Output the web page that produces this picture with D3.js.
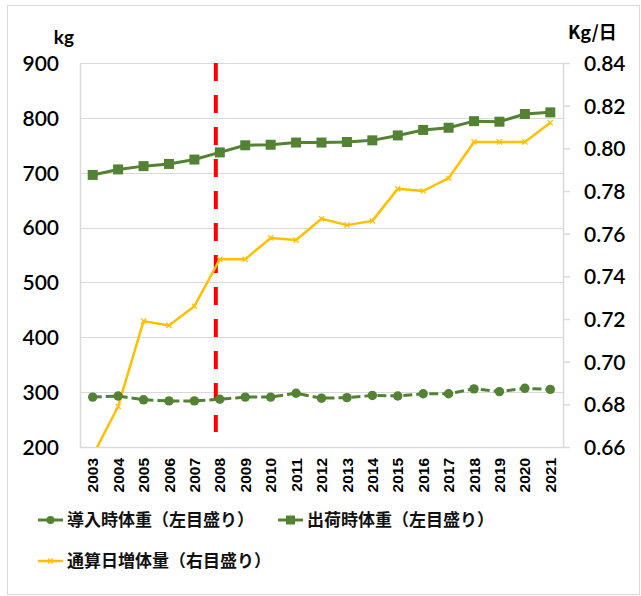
<!DOCTYPE html>
<html>
<head>
<meta charset="utf-8">
<script src="https://cdn.jsdelivr.net/npm/d3@7"></script>
<style>
  html, body { margin: 0; padding: 0; background: #fff; }
  svg { display: block; }
</style>
</head>
<body>
<svg id="chart" width="641" height="596"></svg>
<script>
// Years on the category axis
const years = ["2003","2004","2005","2006","2007","2008","2009","2010","2011","2012",
               "2013","2014","2015","2016","2017","2018","2019","2020","2021"];
// 導入時体重 (kg, left axis)
const introWeight = [291, 293, 286, 284, 284, 287, 291, 291, 298, 289,
                     290, 294, 293, 297, 297, 306, 301, 307, 305];
// 出荷時体重 (kg, left axis)
const shipWeight = [696, 706, 712, 716, 724, 737, 750, 751, 755, 755,
                    756, 759, 768, 778, 782, 794, 793, 807, 810];
// 通算日増体量 (kg/日, right axis)
const dailyGain = [0.656, 0.679, 0.719, 0.717, 0.726, 0.748, 0.748, 0.758, 0.757, 0.767,
                   0.764, 0.766, 0.781, 0.780, 0.786, 0.803, 0.803, 0.803, 0.812];
const leftTicks = [200, 300, 400, 500, 600, 700, 800, 900];
const rightTicks = [0.66, 0.68, 0.70, 0.72, 0.74, 0.76, 0.78, 0.80, 0.82, 0.84];
const markerYear = "2008";
const legendLabels = ["導入時体重（左目盛り）", "出荷時体重（左目盛り）", "通算日増体量（右目盛り）"];

const GREEN = "#548235", YELLOW = "#FFC000", RED = "#FF0000", GRID = "#d9d9d9";
const numFont = "Lato, 'Liberation Sans', sans-serif";
const jpFont = "'Noto Sans CJK JP', sans-serif";

const svg = d3.select("#chart");
const plot = { left: 80, right: 563, top: 63, bottom: 447 };

// outer frame
svg.append("rect").attr("x", 7.5).attr("y", 5.5).attr("width", 632).attr("height", 589)
  .attr("fill", "#fff").attr("stroke", GRID).attr("stroke-width", 1);

const x = d3.scaleBand().domain(years).range([plot.left, plot.right]);
const cx = d => x(d) + x.bandwidth() / 2;
const yL = d3.scaleLinear().domain([200, 900]).range([plot.bottom, plot.top]);
const yR = d3.scaleLinear().domain([0.66, 0.84]).range([plot.bottom, plot.top]);

// horizontal gridlines
svg.append("g").selectAll("line").data(leftTicks.slice(1)).join("line")
  .attr("x1", plot.left).attr("x2", plot.right)
  .attr("y1", d => Math.round(yL(d)) + 0.5).attr("y2", d => Math.round(yL(d)) + 0.5)
  .attr("stroke", GRID).attr("stroke-width", 1.2);

// left axis
const axL = svg.append("g").attr("transform", `translate(${plot.left},0)`)
  .call(d3.axisLeft(yL).tickValues(leftTicks).tickSize(0).tickPadding(21));
axL.select(".domain").attr("stroke", GRID).attr("stroke-width", 1.5);
axL.selectAll("text").attr("font-family", numFont).attr("font-size", 21)
  .attr("font-weight", 600).attr("fill", "#000").attr("dy", "0.35em");

// right axis
const axR = svg.append("g").attr("transform", `translate(${plot.right},0)`)
  .call(d3.axisRight(yR).tickValues(rightTicks).tickFormat(d3.format(".2f")).tickSizeInner(7).tickSizeOuter(0).tickPadding(14));
axR.select(".domain").attr("stroke", GRID).attr("stroke-width", 1.5);
axR.selectAll("line").attr("stroke", GRID).attr("stroke-width", 1.5);
axR.selectAll("text").attr("font-family", numFont).attr("font-size", 21)
  .attr("font-weight", 600).attr("fill", "#000").attr("dy", "0.35em");

// bottom axis
const axB = svg.append("g").attr("transform", `translate(0,${plot.bottom})`)
  .call(d3.axisBottom(x).tickSize(0).tickPadding(11));
axB.select(".domain").attr("stroke", GRID).attr("stroke-width", 1.5);
axB.selectAll("text").attr("font-family", "'Liberation Sans', Arial, sans-serif")
  .attr("font-size", 15.5).attr("font-weight", "bold").attr("fill", "#000")
  .attr("transform", "rotate(-90)").attr("text-anchor", "end")
  .attr("x", -11).attr("y", 0).attr("dy", "0.36em");

// unit labels
svg.append("text").attr("x", 74).attr("y", 44).attr("text-anchor", "end")
  .attr("font-family", numFont).attr("font-size", 19).attr("font-weight", "bold").text("kg");
svg.append("text").attr("x", 568).attr("y", 39)
  .attr("font-family", "'Noto Sans CJK JP', sans-serif").attr("font-size", 18).attr("font-weight", "bold").text("Kg/日");

// clip so series stay inside the plot area
svg.append("clipPath").attr("id", "plotClip").append("rect")
  .attr("x", plot.left).attr("y", plot.top - 10).attr("width", plot.right - plot.left)
  .attr("height", plot.bottom - plot.top + 10);

// 2008 boundary marker
svg.append("line")
  .attr("x1", cx(markerYear) - 4).attr("x2", cx(markerYear) - 4)
  .attr("y1", plot.top).attr("y2", 432)
  .attr("stroke", RED).attr("stroke-width", 4).attr("stroke-dasharray", "18,14");

const g = svg.append("g").attr("clip-path", "url(#plotClip)");

// 通算日増体量 line (right axis)
const lineR = d3.line().x((d, i) => cx(years[i])).y(d => yR(d));
g.append("path").datum(dailyGain).attr("d", lineR)
  .attr("fill", "none").attr("stroke", YELLOW).attr("stroke-width", 2.5).attr("stroke-linejoin", "round");
const xMark = (px, py, s) => `M${px - s},${py - s}L${px + s},${py + s}M${px - s},${py + s}L${px + s},${py - s}`;
g.append("g").selectAll("path").data(dailyGain).join("path")
  .attr("d", (d, i) => xMark(cx(years[i]), yR(d), 2.6))
  .attr("stroke", YELLOW).attr("stroke-width", 1.3).attr("fill", "none");

// 出荷時体重 line (left axis)
const lineL = d3.line().x((d, i) => cx(years[i])).y(d => yL(d));
g.append("path").datum(shipWeight).attr("d", lineL)
  .attr("fill", "none").attr("stroke", GREEN).attr("stroke-width", 3).attr("stroke-linejoin", "round");
g.append("g").selectAll("rect").data(shipWeight).join("rect")
  .attr("x", (d, i) => cx(years[i]) - 5).attr("y", d => yL(d) - 5)
  .attr("width", 10).attr("height", 10).attr("fill", GREEN);

// 導入時体重 line (left axis), dashed
g.append("path").datum(introWeight).attr("d", lineL)
  .attr("fill", "none").attr("stroke", GREEN).attr("stroke-width", 3)
  .attr("stroke-dasharray", "9,4");
g.append("g").selectAll("circle").data(introWeight).join("circle")
  .attr("cx", (d, i) => cx(years[i])).attr("cy", d => yL(d)).attr("r", 4.7).attr("fill", GREEN);

// legend
const legend = svg.append("g");
const items = [
  { label: legendLabels[0], x: 38, y: 520, color: GREEN, mark: "circle" },
  { label: legendLabels[1], x: 278, y: 520, color: GREEN, mark: "square" },
  { label: legendLabels[2], x: 38, y: 561, color: YELLOW, mark: "x" }
];
items.forEach(it => {
  const lg = legend.append("g").attr("transform", `translate(${it.x},${it.y})`);
  lg.append("line").attr("x1", 0).attr("x2", 25).attr("y1", 0).attr("y2", 0)
    .attr("stroke", it.color).attr("stroke-width", it.mark === "x" ? 2.5 : 3);
  if (it.mark === "circle") lg.append("circle").attr("cx", 12.5).attr("cy", 0).attr("r", 4).attr("fill", it.color);
  if (it.mark === "square") lg.append("rect").attr("x", 8).attr("y", -4.5).attr("width", 9).attr("height", 9).attr("fill", it.color);
  if (it.mark === "x") lg.append("path").attr("d", xMark(12.5, 0, 2.5)).attr("stroke", it.color).attr("stroke-width", 1.3);
  lg.append("text").attr("x", 29).attr("y", 0).attr("dy", "0.36em")
    .attr("font-family", jpFont).attr("font-size", 17).attr("font-weight", "bold")
    .attr("fill", "#111").text(it.label);
});
</script>
</body>
</html>
